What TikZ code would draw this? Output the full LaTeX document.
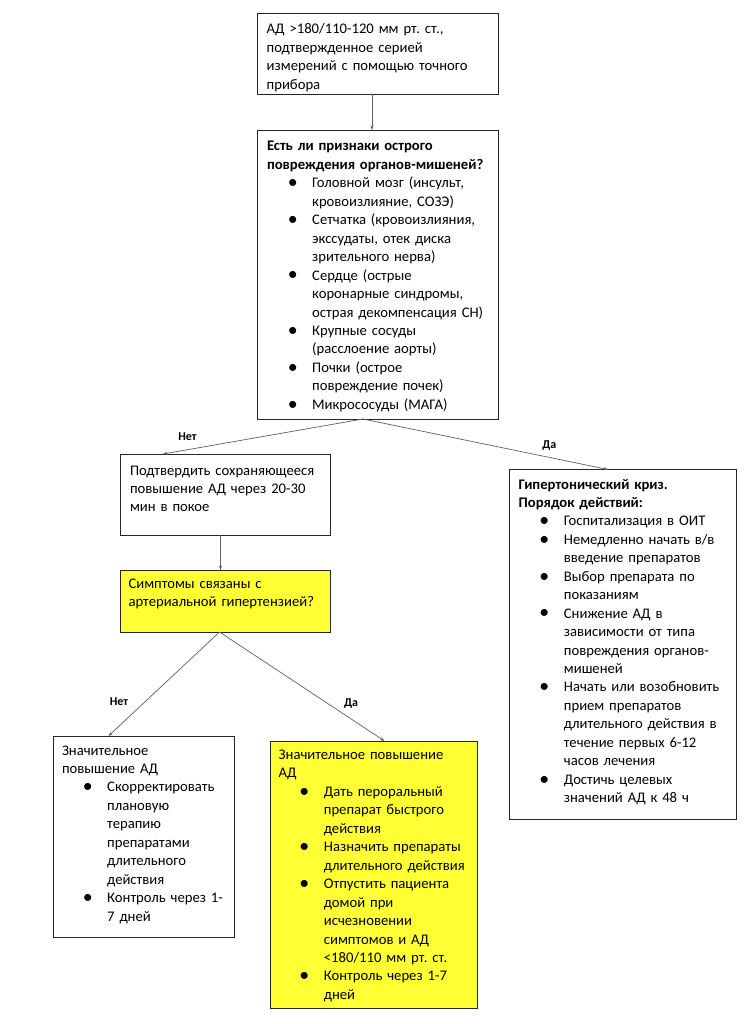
\documentclass[tikz,border=0pt]{standalone}
\usepackage{fontspec}
\usepackage{graphicx}
\setmainfont{Carlito}
\usetikzlibrary{arrows.meta}
\definecolor{boxyellow}{RGB}{255,255,51}
\definecolor{linegray}{RGB}{95,95,95}
\newlength\bulc \setlength\bulc{25.7pt}
\newlength\itmind \setlength\itmind{45.2pt}
\newcommand\fs{\fontsize{14.67}{18.45}\selectfont}
\newcommand\itm[1]{\par\noindent\hangindent=\itmind\hangafter=1\relax\makebox[\itmind][l]{\hspace*{\bulc}\makebox[0pt]{\raisebox{-0.8pt}{\scalebox{1.35}{\textbullet}}}}#1\par}
\frenchspacing
\begin{document}
\begin{tikzpicture}[x=1pt,y=-1pt,
  box/.style={draw=black!85, line width=0.9pt, anchor=north west, inner sep=0pt, outer sep=0pt},
  ybox/.style={box, fill=boxyellow},
  txt/.style={anchor=base west, inner sep=0pt, outer sep=0pt, font=\fs, text width=265pt},
  arr/.style={draw=linegray, line width=0.7pt, -{Stealth[length=4.5pt,width=3.2pt]}},
  lbl/.style={font=\fontsize{12}{14}\selectfont\bfseries, inner sep=0pt}]
\useasboundingbox (0,0) rectangle (745,1024);
\fill[white] (0,0) rectangle (745,1024);
% boxes
\node[box, minimum width=241pt, minimum height=81pt] (b1) at (257,13) {};
\node[box, minimum width=241pt, minimum height=289pt] (b2) at (257,130) {};
\node[box, minimum width=209.5pt, minimum height=81pt] (b3) at (120.5,454) {};
\node[box, minimum width=227pt, minimum height=350pt] (b4) at (509,469.5) {};
\node[ybox, minimum width=209.5pt, minimum height=62pt] (b5) at (120.5,570) {};
\node[box, minimum width=181.5pt, minimum height=201pt] (b6) at (53,736) {};
\node[ybox, minimum width=207pt, minimum height=267pt] (b7) at (270.5,741) {};
% texts
\node[txt] (t1) at (266.7,34) {АД >180/110-120 мм рт. ст.,\newline подтвержденное серией\newline измерений с помощью точного\newline прибора\par};
\node[txt] (t2) at (267,151) {\textbf{Есть ли признаки острого}\newline\textbf{повреждения органов-мишеней?}
\itm{Головной мозг (инсульт,\newline кровоизлияние, СОЗЭ)}
\itm{Сетчатка (кровоизлияния,\newline экссудаты, отек диска\newline зрительного нерва)}
\itm{Сердце (острые\newline коронарные синдромы,\newline острая декомпенсация СН)}
\itm{Крупные сосуды\newline (расслоение аорты)}
\itm{Почки (острое\newline повреждение почек)}
\itm{Микрососуды (МАГА)}};
\node[txt] (t3) at (130,475) {Подтвердить сохраняющееся\newline повышение АД через 20-30\newline мин в покое\par};
\node[txt] (t4) at (518.7,489) {\textbf{Гипертонический криз.}\newline\textbf{Порядок действий:}
\itm{Госпитализация в ОИТ}
\itm{Немедленно начать в/в\newline введение препаратов}
\itm{Выбор препарата по\newline показаниям}
\itm{Снижение АД в\newline зависимости от типа\newline повреждения органов-\newline мишеней}
\itm{Начать или возобновить\newline прием препаратов\newline длительного действия в\newline течение первых 6-12\newline часов лечения}
\itm{Достичь целевых\newline значений АД к 48 ч}};
\node[txt] (t5) at (128.5,588.5) {Симптомы связаны с\newline артериальной гипертензией?\par};
\node[txt] (t6) at (62,755) {Значительное\newline повышение АД
\itm{Скорректировать\newline плановую\newline терапию\newline препаратами\newline длительного\newline действия}
\itm{Контроль через 1-\newline 7 дней}};
\node[txt] (t7) at (278.7,759.5) {Значительное повышение\newline АД
\itm{Дать пероральный\newline препарат быстрого\newline действия}
\itm{Назначить препараты\newline длительного действия}
\itm{Отпустить пациента\newline домой при\newline исчезновении\newline симптомов и АД\newline <180/110 мм рт. ст.}
\itm{Контроль через 1-7\newline дней}};
% connector anchors
\coordinate (c1) at (372,0);
\coordinate (c2) at (363,0);
\coordinate (c3) at (163,0);
\coordinate (c4) at (608,0);
\coordinate (c5) at (220.5,0);
\coordinate (c6) at (219.5,0);
\coordinate (c7) at (108.5,0);
\coordinate (c8) at (384.5,0);
\draw[arr] (b1.south -| c1) -- (b2.north -| c1);
\draw[arr] (b2.south -| c2) -- (b3.north -| c3);
\draw[arr] (b2.south -| c2) -- (b4.north -| c4);
\draw[arr] (b3.south -| c5) -- (b5.north -| c5);
\draw[arr] (b5.south -| c6) -- (b6.north -| c7);
\draw[arr] (b5.south -| c6) -- (b7.north -| c8);
% labels
\node[lbl] (l1) at (187.5,436.5) {Нет};
\node[lbl] (l2) at (549.3,445.7) {Да};
\node[lbl] (l3) at (119,701.7) {Нет};
\node[lbl] (l4) at (351,704) {Да};
\end{tikzpicture}
\end{document}
